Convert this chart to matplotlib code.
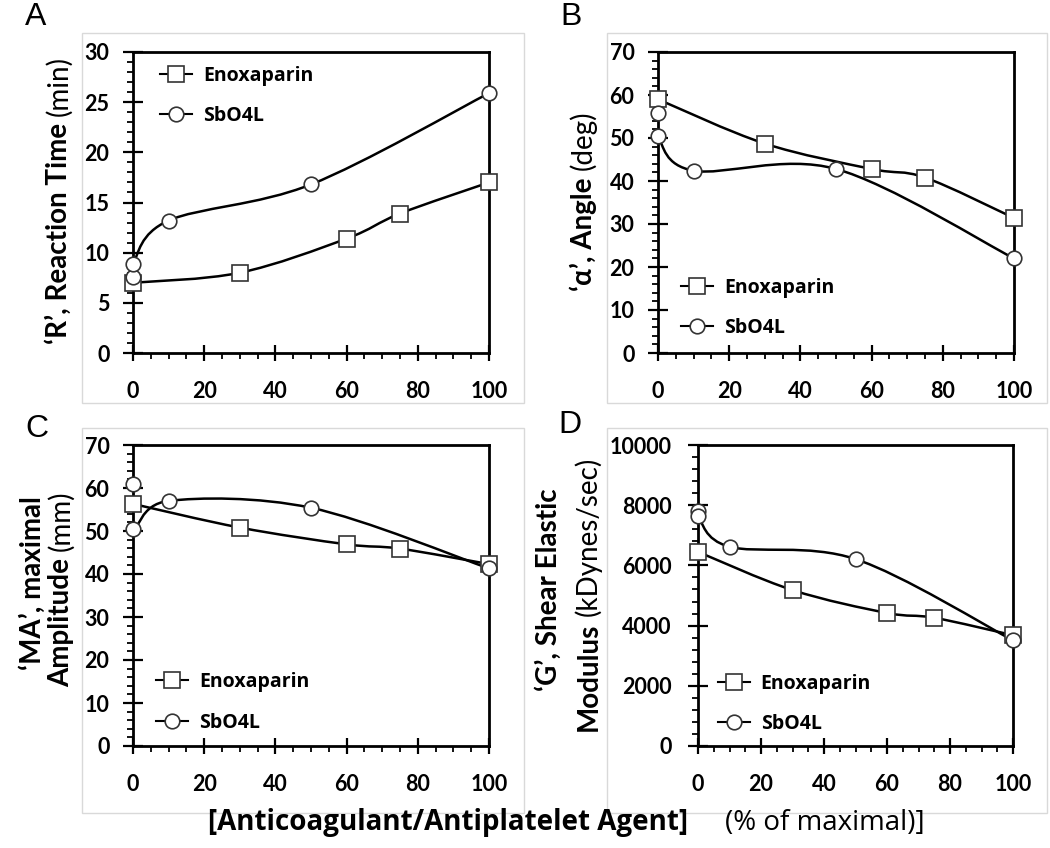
import numpy as np
import matplotlib
matplotlib.use('Agg')
import matplotlib.pyplot as plt
from matplotlib.path import Path
from matplotlib.patches import PathPatch, Rectangle
from matplotlib.lines import Line2D
from matplotlib.ticker import MultipleLocator

plt.rcParams['font.family'] = ['Lato', 'DejaVu Sans']

# data
x_enox = [0, 30, 60, 75, 100]
x_sbo = [0, 0, 10, 50, 100]

r_enox = [7.0, 8.0, 11.4, 13.9, 17.0]
r_sbo = [7.6, 8.9, 13.2, 16.8, 25.9]
angle_enox = [59.0, 48.7, 42.8, 40.8, 31.4]
angle_sbo = [55.8, 50.4, 42.4, 42.8, 22.0]
ma_enox = [56.3, 50.8, 46.9, 45.9, 42.3]
ma_sbo = [60.9, 50.4, 57.0, 55.4, 41.3]
g_enox = [6450, 5180, 4420, 4260, 3680]
g_sbo = [7820, 7640, 6620, 6210, 3510]

names = ['Enoxaparin', 'SbO4L']

W, H = 1050, 848
fig = plt.figure(figsize=(W / 100, H / 100), dpi=100)
fam = ['Lato', 'DejaVu Sans']
fam2 = ['Open Sans', 'DejaVu Sans']


def smooth_path(x, y):
    # Excel-like smoothed line (cubic bezier through the points)
    pts = np.column_stack([x, y]).astype(float)
    n = len(pts)
    verts = [pts[0]]
    codes = [Path.MOVETO]
    for i in range(n - 1):
        p0 = pts[max(i - 1, 0)]
        p1 = pts[i]
        p2 = pts[i + 1]
        p3 = pts[min(i + 2, n - 1)]
        verts += [p1 + (p2 - p0) / 6, p2 - (p3 - p1) / 6, p2]
        codes += [Path.CURVE4] * 3
    return Path(verts, codes)


def px_axes(l, t, r, b):
    return fig.add_axes([l / W, 1 - b / H, (r - l) / W, (b - t) / H])


mk = dict(mfc='white', mec='#333333', mew=1.2)
sq = dict(marker='s', ms=11, **mk)
ci = dict(marker='o', ms=10.5, **mk)

# light grey chart-area frames
for l, t, r, b in [(82, 33, 524, 403), (607, 33, 1047, 403),
                   (82, 428, 524, 813), (607, 428, 1047, 813)]:
    fig.patches.append(Rectangle((l / W, 1 - b / H), (r - l) / W, (b - t) / H,
                                 transform=fig.transFigure, fill=False,
                                 ec='#d9d9d9', lw=1))

panels = [
    # box(px), enox, sbo, ymax, major, minor, legend anchor, ypad
    ((133, 52, 489, 353), r_enox, r_sbo, 30, 5, 1, (0.076, 0.955), 10),
    ((658, 52, 1014, 353), angle_enox, angle_sbo, 70, 10, 2, (0.065, 0.25), 10),
    ((133, 445, 489, 746), ma_enox, ma_sbo, 70, 10, 2, (0.065, 0.245), 10),
    ((698, 445, 1013, 746), g_enox, g_sbo, 10000, 2000, 400, (0.063, 0.24), 12),
]

for box, ye, ys, ymax, maj, mnr, lpos, ypad in panels:
    ax = px_axes(*box)
    ax.set_xlim(0, 100)
    ax.set_ylim(0, ymax)
    ax.add_patch(PathPatch(smooth_path(x_enox, ye), fill=False, ec='black', lw=1.8))
    ax.add_patch(PathPatch(smooth_path(x_sbo, ys), fill=False, ec='black', lw=1.8))
    ax.plot(x_enox, ye, ls='none', clip_on=False, zorder=5, **sq)
    ax.plot(x_sbo, ys, ls='none', clip_on=False, zorder=5, **ci)

    ax.set_xticks(np.arange(0, 101, 20))
    ax.set_yticks(np.arange(0, ymax + 1, maj))
    ax.xaxis.set_minor_locator(MultipleLocator(5))
    ax.yaxis.set_minor_locator(MultipleLocator(mnr))
    plt.setp(ax.get_xticklabels() + ax.get_yticklabels(), fontweight='bold')
    ax.tick_params(which='major', direction='inout', width=1.6, labelsize=15.5)
    ax.tick_params(axis='x', which='major', length=11, pad=15)
    ax.tick_params(axis='y', which='major', length=14, pad=ypad)
    ax.tick_params(which='minor', direction='out', length=4, width=1.3)
    for s in ax.spines.values():
        s.set_linewidth(2)

    handles = [Line2D([], [], color='black', lw=1.5, **sq),
               Line2D([], [], color='black', lw=1.5, **ci)]
    ax.legend(handles, names, loc='upper left', bbox_to_anchor=lpos,
              frameon=False, borderpad=0, borderaxespad=0,
              prop=dict(family=fam2, weight='bold', size=14),
              handlelength=1.65, handletextpad=0.55, labelspacing=1.05)

# panel letters
for letter, x, y in [('A', 25, 25), ('B', 560, 25), ('C', 25, 437), ('D', 558, 433)]:
    fig.text(x / W, 1 - y / H, letter, fontsize=23, family='Liberation Sans',
             ha='left', va='baseline')

# rotated y labels with bold + normal parts
labels = [
    (67, 200, [("‘R’, Reaction Time", 'bold'), ("(min)", 'normal')]),
    (592, 201, [("‘α’, Angle", 'bold'), ("(deg)", 'normal')]),
    (41, 583, [("‘MA’, maximal", 'bold')]),
    (69, 589, [("Amplitude", 'bold'), ("(mm)", 'normal')]),
    (557, 590, [("‘G’, Shear Elastic", 'bold')]),
    (597, 594, [("Modulus", 'bold'), ("(kDynes/sec)", 'normal')]),
]
placed = []
for x, yc, parts in labels:
    ts = [fig.text(0, 0, s, rotation=90, rotation_mode='anchor', ha='left',
                   va='baseline', fontsize=20, fontweight=w, family=fam)
          for s, w in parts]
    placed.append((x, yc, ts))

# x label
fig.text(208 / W, 1 - 830 / H, "[Anticoagulant/Antiplatelet Agent]",
         fontsize=20, fontweight='bold', family=fam2, ha='left', va='baseline')
fig.text(725 / W, 1 - 830 / H, "(% of maximal)]",
         fontsize=20, family=fam2, ha='left', va='baseline')

fig.canvas.draw()
rend = fig.canvas.get_renderer()
gap = 7
for x, yc, ts in placed:
    lens = [t.get_window_extent(rend).height for t in ts]
    total = sum(lens) + gap * (len(ts) - 1)
    y = (H - yc) - total / 2
    for t, L in zip(ts, lens):
        t.set_position((x / W, y / H))
        y += L + gap

fig.savefig('out.png', dpi=100)
